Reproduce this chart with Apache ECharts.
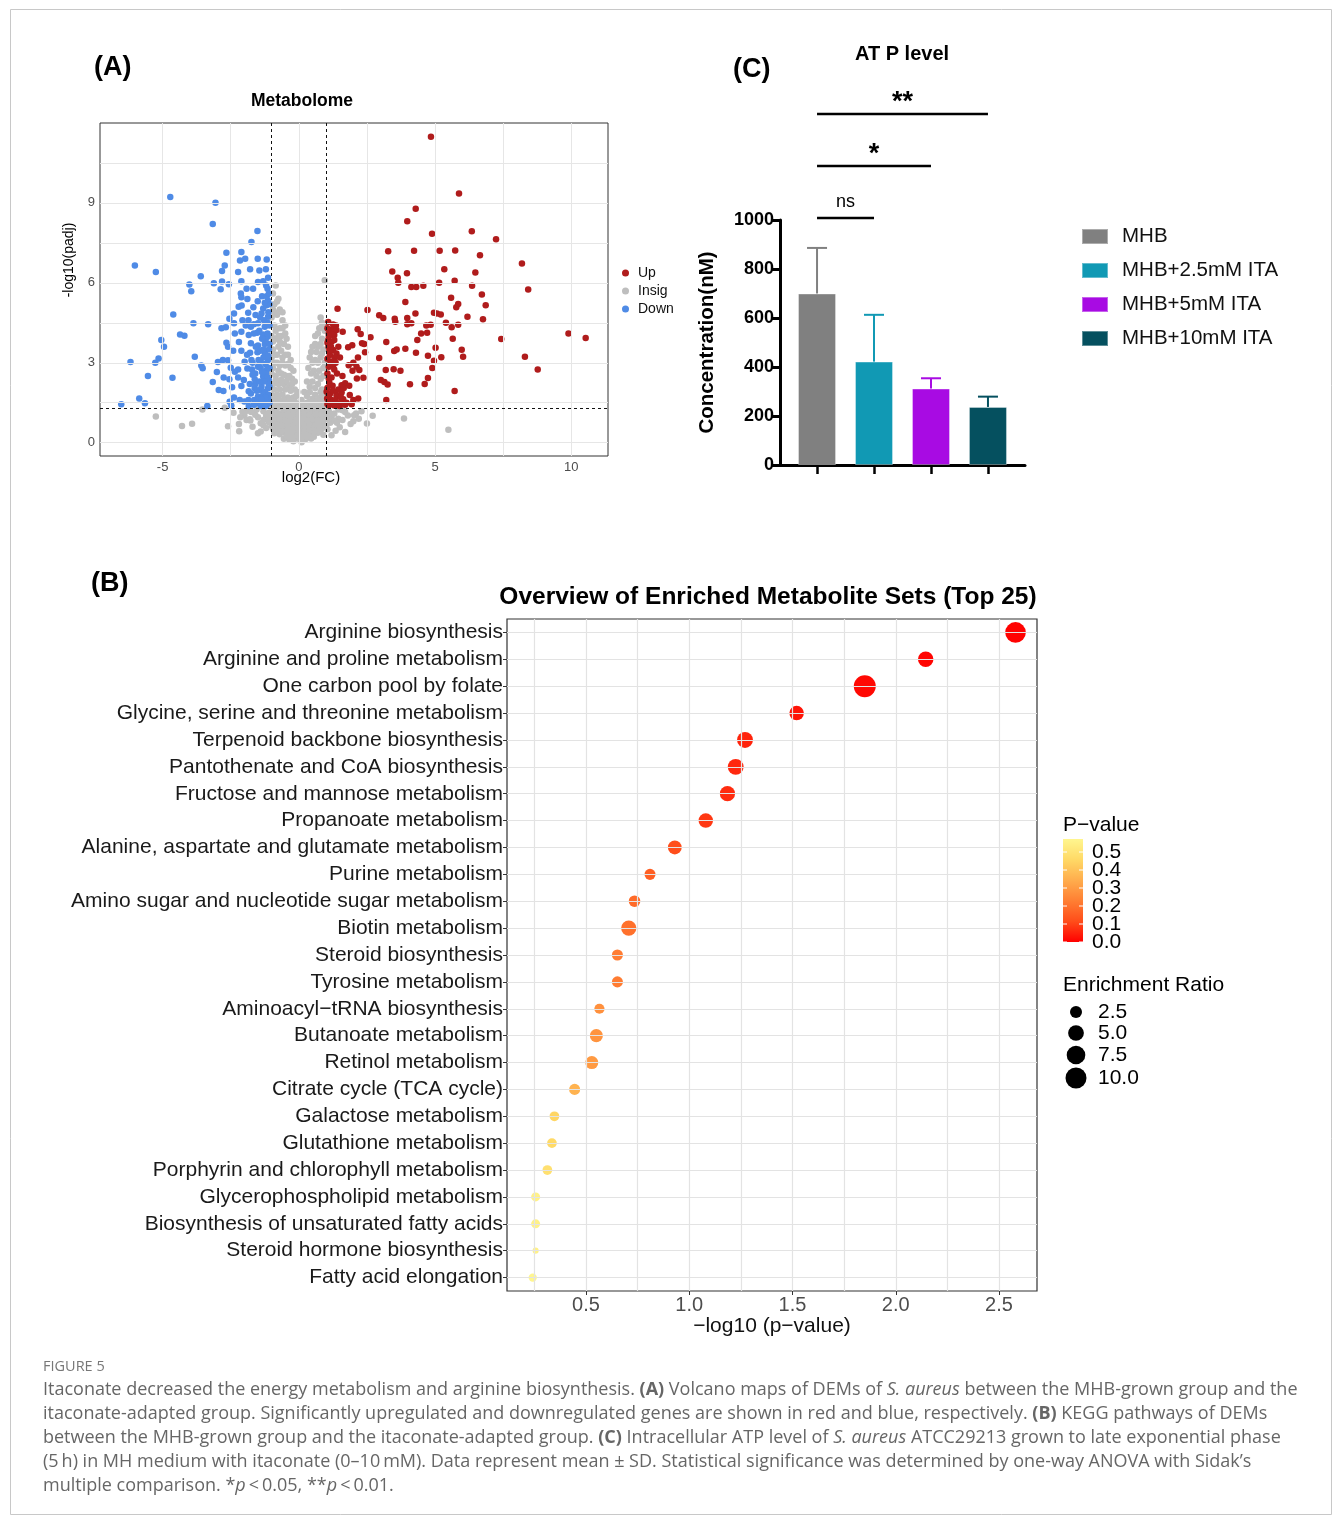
<!DOCTYPE html>
<html><head><meta charset="utf-8">
<script src="https://cdn.jsdelivr.net/npm/echarts@6/dist/echarts.min.js"></script>
<style>html,body{margin:0;padding:0;background:#fff}#c{width:1333px;height:1517px}</style>
</head><body><div id="c"></div>
<script>
// ---------------- DATA ----------------
// (A) Volcano: [log2(FC), -log10(padj)]
const volcanoUp = [[4.85,11.48],[5.88,9.35],[4.29,8.78],[3.98,8.31],[6.35,7.94],[4.89,7.84],[7.24,7.64],[3.28,7.19],[4.23,7.2],[5.17,7.2],[5.74,7.21],[6.65,7.04],[8.19,6.73],[5.34,6.51],[3.43,6.43],[3.63,6.19],[3.65,6.0],[3.97,6.36],[6.48,6.39],[5.72,6.08],[5.15,6.0],[6.36,5.89],[8.42,5.75],[4.13,5.84],[4.31,5.84],[4.57,5.89],[6.72,5.56],[5.59,5.44],[5.78,5.08],[5.85,5.21],[6.86,5.16],[3.91,5.28],[1.42,5.03],[2.52,4.98],[2.95,4.78],[3.1,4.68],[3.52,4.65],[3.54,4.54],[3.98,4.68],[4.28,4.85],[3.98,4.45],[4.13,4.48],[4.96,4.88],[5.07,4.85],[5.21,4.81],[4.68,4.4],[4.84,4.43],[5.4,4.5],[5.85,4.43],[6.19,4.73],[6.76,4.63],[5.61,4.33],[4.49,4.1],[4.71,4.13],[7.43,3.89],[9.9,4.1],[10.53,3.93],[4.35,3.85],[5.65,3.9],[3.21,3.78],[3.5,3.44],[3.59,3.5],[3.91,3.53],[4.3,3.38],[5.02,3.56],[5.98,3.49],[6.03,3.23],[2.95,3.18],[4.74,3.26],[4.96,3.08],[5.23,3.21],[8.3,3.23],[3.19,2.73],[3.48,2.76],[3.73,2.7],[4.9,2.8],[8.77,2.75],[3.01,2.35],[3.14,2.28],[3.26,2.18],[4.08,2.19],[4.62,2.2],[4.74,2.43],[3.21,1.6],[5.72,1.94],[1.08,4.53],[1.26,4.44],[1.36,4.4],[1.2,4.25],[1.38,4.23],[1.61,4.16],[1.1,4.1],[1.3,4.04],[2.16,4.26],[2.27,4.08],[2.63,3.96],[2.32,3.73],[2.4,3.7],[1.96,3.66],[1.81,3.58],[1.08,3.85],[1.2,3.79],[1.09,3.6],[1.26,3.48],[1.38,3.35],[1.14,3.29],[1.32,3.2],[1.51,3.2],[1.16,3.04],[1.26,2.91],[2.43,3.39],[2.17,3.2],[1.83,2.91],[2.0,3.0],[2.12,2.85],[2.22,2.73],[1.97,2.7],[1.4,2.6],[2.13,2.41],[2.37,2.44],[1.57,2.16],[1.7,2.23],[1.85,2.14],[1.24,2.14],[1.02,1.91],[1.14,1.83],[1.38,1.79],[1.57,1.88],[1.2,1.6],[1.38,1.41],[1.63,1.63],[1.87,1.79],[2.0,1.6],[2.18,1.66],[1.75,1.5],[1.04,1.66],[1.51,1.48],[1.94,1.44],[1.15,3.45],[1.22,4.05],[1.1,2.4],[1.3,2.75],
[1.05,1.45],[1.1,1.75],[1.05,2.05],[1.12,2.25],[1.05,2.6],[1.1,2.85],[1.05,3.15],[1.12,3.45],[1.05,3.75],[1.1,4.0],[1.05,4.3],[1.2,1.5],[1.25,1.95],[1.2,2.45],[1.25,3.05],[1.18,3.6],[1.3,3.85],[1.35,1.6],[1.45,2.0],[1.35,3.0],[1.45,3.6],[1.55,1.7],[1.65,2.05],[1.6,2.5],[1.1,1.4],[1.3,1.4],[1.5,1.38],[1.7,1.42]];
const volcanoDown = [[-4.72,9.22],[-3.06,9.01],[-3.16,8.21],[-1.52,7.95],[-1.74,7.53],[-2.66,7.13],[-2.11,7.16],[-6.02,6.65],[-5.25,6.41],[-2.72,6.65],[-2.16,6.84],[-1.97,6.9],[-1.51,6.9],[-1.18,6.88],[-2.82,6.44],[-2.23,6.41],[-1.79,6.51],[-1.45,6.46],[-1.21,6.51],[-3.6,6.25],[-2.82,6.05],[-2.57,5.95],[-3.12,5.98],[-2.87,5.76],[-2.11,6.06],[-1.5,6.03],[-1.31,6.06],[-1.13,6.19],[-1.15,5.78],[-4.02,5.94],[-3.95,5.68],[-2.13,5.6],[-1.92,5.78],[-1.68,5.78],[-2.11,5.46],[-1.89,5.39],[-1.51,5.31],[-1.13,5.33],[-4.61,4.81],[-3.87,4.48],[-3.33,4.45],[-2.84,4.3],[-4.36,4.06],[-4.2,4.01],[-2.55,4.65],[-2.38,4.85],[-2.21,5.1],[-2.1,5.15],[-1.86,4.88],[-1.67,5.08],[-1.31,5.04],[-1.19,5.16],[-2.07,4.6],[-1.85,4.6],[-1.59,4.79],[-1.37,4.85],[-1.13,4.73],[-2.38,4.48],[-1.76,4.35],[-1.5,4.48],[-1.25,4.35],[-2.68,4.33],[-2.35,4.1],[-2.11,4.16],[-1.84,4.04],[-1.53,4.13],[-1.31,4.06],[-1.15,3.98],[-5.05,3.85],[-4.95,3.6],[-2.66,3.75],[-2.6,3.6],[-2.2,3.78],[-1.76,3.73],[-1.5,3.65],[-1.25,3.7],[-3.82,3.23],[-2.41,3.45],[-2.11,3.45],[-1.79,3.38],[-1.52,3.39],[-1.25,3.38],[-6.18,3.03],[-5.27,3.0],[-5.15,3.16],[-2.97,3.03],[-2.79,3.1],[-2.6,3.09],[-1.99,3.04],[-1.74,3.1],[-1.4,3.04],[-1.13,3.1],[-3.58,2.9],[-3.53,2.79],[-2.5,2.81],[-2.23,2.75],[-1.89,2.78],[-1.72,2.75],[-1.5,2.85],[-1.19,2.73],[-3.01,2.65],[-2.35,2.66],[-5.54,2.5],[-4.64,2.44],[-2.76,2.45],[-2.55,2.38],[-2.23,2.45],[-2.02,2.35],[-1.62,2.38],[-1.31,2.48],[-1.1,2.35],[-3.16,2.28],[-2.45,2.08],[-2.11,2.13],[-1.84,1.93],[-1.62,2.04],[-1.37,2.1],[-1.13,2.04],[-2.94,1.98],[-2.77,1.94],[-5.86,1.66],[-5.65,1.48],[-6.52,1.44],[-3.36,1.38],[-2.54,1.54],[-2.38,1.7],[-2.17,1.6],[-2.48,1.4],[-1.84,1.38],[-1.64,1.6],[-1.5,1.73],[-1.31,1.79],[-1.13,1.66],[-1.56,1.48],[-1.37,1.45],[-1.19,1.41],[-1.76,1.85],[-1.43,1.98],[-1.2,2.6],[-1.3,3.2],[-1.45,4.2],[-1.25,1.9],[-1.6,2.2],[-1.15,4.5],[-1.35,5.5],[-1.2,5.9],[-1.4,2.8],[-1.7,3.0],[-1.28,1.55],[-1.5,1.6],[-1.1,3.5],[-1.95,4.4],[-1.1,2.2],[-1.65,4.45],[-1.9,3.3],[-2.0,1.55],[-1.42,3.45],[-1.18,5.5],
[-1.08,1.5],[-1.12,1.8],[-1.08,2.1],[-1.15,2.45],[-1.08,2.8],[-1.12,3.25],[-1.08,3.7],[-1.15,4.1],[-1.08,4.4],[-1.12,4.9],[-1.08,5.2],[-1.1,5.6],[-1.22,1.7],[-1.28,2.3],[-1.22,2.95],[-1.3,3.5],[-1.22,3.85],[-1.28,4.6],[-1.25,5.25],[-1.38,1.62],[-1.45,2.3],[-1.35,2.65],[-1.48,3.1],[-1.35,3.9],[-1.42,4.7],[-1.55,1.95],[-1.6,2.6],[-1.58,3.6],[-1.65,4.1],[-1.7,2.55],[-1.2,1.38],[-1.4,1.38],[-1.65,1.42],[-1.85,1.6],[-1.8,2.2]];
const volcanoInsig = [[-0.85,5.9],[-0.95,5.6],[-0.75,5.4],[-0.9,5.2],[-0.7,5.0],[-1.0,4.7],[-0.8,4.8],[-0.6,4.6],[-0.9,4.4],[-0.7,4.3],[-0.5,4.4],[-1.0,4.0],[-0.85,3.9],[-0.65,4.0],[-0.45,3.9],[-0.55,3.7],[-0.75,3.6],[-0.95,3.5],[-1.0,3.2],[-0.8,3.3],[-0.6,3.2],[-0.4,3.3],[-0.9,3.0],[-0.7,2.9],[-0.5,2.9],[-0.3,2.8],[-1.0,2.6],[-0.85,2.5],[-0.65,2.6],[-0.45,2.5],[-0.25,2.4],[-0.95,2.2],[-0.75,2.2],[-0.55,2.2],[-0.35,2.1],[-0.15,2.0],[-1.0,1.8],[-0.8,1.8],[-0.6,1.8],[-0.4,1.7],[-0.2,1.7],[-0.9,1.5],[-0.7,1.5],[-0.5,1.4],[-0.3,1.4],[-0.1,1.4],
[0.95,6.1],[0.85,4.5],[0.75,4.3],[0.95,4.2],[0.6,4.0],[0.85,3.9],[0.5,3.6],[0.7,3.6],[0.9,3.5],[0.4,3.2],[0.6,3.1],[0.8,3.2],[0.95,3.0],[0.35,2.8],[0.55,2.7],[0.75,2.7],[0.9,2.5],[0.3,2.3],[0.5,2.3],[0.7,2.2],[0.85,2.0],[0.2,1.9],[0.4,1.9],[0.6,1.8],[0.8,1.7],[0.95,1.6],[0.1,1.6],[0.3,1.5],[0.5,1.4],[0.7,1.4],[0.9,1.35],
[-0.2,1.2],[0.0,1.25],[0.2,1.3],[-0.4,1.25],[0.4,1.2],[-0.6,1.3],[0.6,1.25],[-0.8,1.3],[0.8,1.2],[-1.0,1.35],[1.0,1.3],
[-1.3,1.18],[-1.1,1.12],[-0.9,1.2],[-0.7,1.1],[-0.5,1.17],[-0.3,1.13],[-0.1,1.19],[0.1,1.1],[0.3,1.16],[0.5,1.12],[0.7,1.2],[0.9,1.14],[1.1,1.18],[1.3,1.1],
[-1.5,0.95],[-1.2,0.98],[-1.0,0.92],[-0.8,0.97],[-0.6,0.93],[-0.4,0.99],[-0.2,0.94],[0.0,0.96],[0.2,0.91],[0.4,0.97],[0.6,0.93],[0.8,0.98],[1.0,0.92],[1.2,0.96],[1.45,0.9],
[-1.4,0.73],[-1.1,0.77],[-0.9,0.72],[-0.7,0.76],[-0.5,0.74],[-0.3,0.78],[-0.1,0.72],[0.1,0.76],[0.3,0.73],[0.5,0.77],[0.7,0.74],[0.9,0.71],[1.15,0.75],
[-1.2,0.55],[-0.95,0.52],[-0.75,0.57],[-0.55,0.53],[-0.35,0.56],[-0.15,0.51],[0.05,0.55],[0.25,0.52],[0.45,0.57],[0.65,0.53],[0.85,0.55],[1.05,0.5],
[-0.9,0.35],[-0.7,0.32],[-0.5,0.37],[-0.3,0.33],[-0.1,0.36],[0.1,0.31],[0.3,0.35],[0.5,0.33],[0.7,0.37],[0.9,0.3],
[-0.55,0.15],[-0.35,0.12],[-0.15,0.17],[0.05,0.1],[0.25,0.14],[0.45,0.16],
[-1.6,1.05],[-1.8,0.88],[-2.0,1.02],[-1.7,0.6],[-2.2,0.7],[-2.6,0.62],[-1.4,0.42],[-2.4,1.12],[-1.9,1.2],[1.6,0.85],[1.8,1.02],[1.5,0.58],[2.0,0.8],[2.3,1.18],[1.35,0.45],[1.7,0.4],[2.5,0.72],[1.2,0.28],[1.6,1.22],[2.1,1.1],
[-5.25,0.98],[-4.29,0.63],[-3.92,0.71],[-3.54,1.25],[-2.72,1.31],[-2.19,0.43],[-2.07,1.16],[-1.92,0.85],[-1.78,0.83],[2.71,1.01],[3.86,0.91],[5.49,0.49],[2.03,1.03],
[-0.95,5.0],[-0.8,5.3],[-0.9,4.9],[-0.6,4.9],[-0.85,4.2],[-0.6,4.3],[-0.75,4.0],[-0.5,4.1],[-0.95,3.8],[-0.7,3.8],[-0.4,3.6],[-0.9,3.3],[-0.65,3.45],[-0.5,3.3],[-0.3,3.1],[-0.8,3.0],[-0.6,3.0],[-0.4,2.95],[-0.2,2.7],[-0.95,2.8],[-0.75,2.7],[-0.55,2.55],[-0.35,2.5],[-0.15,2.3],[-0.85,2.35],[-0.65,2.35],[-0.45,2.3],[-0.25,2.2],[-0.05,1.9],[-0.9,2.0],[-0.7,2.0],[-0.5,2.0],[-0.3,1.95],[-0.1,1.75],[-0.95,1.65],[-0.75,1.65],[-0.55,1.6],[-0.35,1.55],[-0.15,1.55],[-1.0,1.45],[-0.8,1.4],[-0.6,1.45],[-0.4,1.45],[-0.2,1.4],[0.0,1.45],
[0.8,4.7],[0.9,4.4],[0.7,4.1],[0.8,3.7],[0.6,3.7],[0.65,3.4],[0.85,3.35],[0.45,3.4],[0.5,3.0],[0.7,3.0],[0.9,2.8],[0.45,2.6],[0.65,2.5],[0.8,2.4],[0.4,2.1],[0.6,2.05],[0.8,1.9],[0.95,1.85],[0.3,1.75],[0.5,1.65],[0.7,1.6],[0.2,1.45],[0.4,1.55],[0.6,1.5],[0.8,1.5],[0.15,1.3],[0.35,1.35],[0.55,1.3],[0.75,1.3],[0.95,1.45],
[-1.2,1.05],[-1.0,1.05],[-0.8,1.08],[-0.6,1.03],[-0.4,1.07],[-0.2,1.04],[0.0,1.06],[0.2,1.02],[0.4,1.07],[0.6,1.03],[0.8,1.06],[1.0,1.02],[1.2,1.05],[-1.3,0.85],[-1.1,0.87],[-0.9,0.83],[-0.7,0.86],[-0.5,0.84],[-0.3,0.88],[-0.1,0.83],[0.1,0.86],[0.3,0.84],[0.5,0.87],[0.7,0.83],[0.9,0.85],[1.1,0.88],[1.3,0.82],[-1.0,0.64],[-0.8,0.66],[-0.6,0.63],[-0.4,0.66],[-0.2,0.62],[0.0,0.65],[0.2,0.63],[0.4,0.66],[0.6,0.62],[0.8,0.65],[1.0,0.62],[-0.8,0.45],[-0.6,0.43],[-0.4,0.46],[-0.2,0.44],[0.0,0.45],[0.2,0.43],[0.4,0.46],[0.6,0.44],[0.8,0.45],[-0.45,0.25],[-0.25,0.23],[-0.05,0.26],[0.15,0.24],[0.35,0.25],[0.55,0.22],[-0.2,0.05],[0.1,0.02],
[-1.55,1.25],[-1.75,1.15],[-2.15,0.95],[-1.3,0.65],[-1.5,0.35],[1.45,1.25],[1.7,1.15],[1.9,0.7],[1.4,0.75],[2.2,0.9]];
const volcanoXTicks = [-5, 0, 5, 10];
const volcanoYTicks = [0, 3, 6, 9];

// (C) ATP level
const atpGroups = ['MHB', 'MHB+2.5mM ITA', 'MHB+5mM ITA', 'MHB+10mM ITA'];
const atpMean = [700, 422, 312, 237];
const atpSD = [186, 191, 42, 42];
const atpComparisons = [[1, 2, 'ns'], [1, 3, '*'], [1, 4, '**']];

// (B) Enrichment
const pathways = ['Arginine biosynthesis','Arginine and proline metabolism','One carbon pool by folate','Glycine, serine and threonine metabolism','Terpenoid backbone biosynthesis','Pantothenate and CoA biosynthesis','Fructose and mannose metabolism','Propanoate metabolism','Alanine, aspartate and glutamate metabolism','Purine metabolism','Amino sugar and nucleotide sugar metabolism','Biotin metabolism','Steroid biosynthesis','Tyrosine metabolism','Aminoacyl\u2212tRNA biosynthesis','Butanoate metabolism','Retinol metabolism','Citrate cycle (TCA cycle)','Galactose metabolism','Glutathione metabolism','Porphyrin and chlorophyll metabolism','Glycerophospholipid metabolism','Biosynthesis of unsaturated fatty acids','Steroid hormone biosynthesis','Fatty acid elongation'];
const pathwayNegLog10P = [2.58,2.145,1.85,1.52,1.27,1.225,1.185,1.08,0.93,0.81,0.735,0.707,0.652,0.652,0.565,0.55,0.528,0.445,0.347,0.335,0.313,0.256,0.256,0.256,0.242];
const pathwayEnrichment = [9.6,4.8,11.1,4.1,5.1,5.1,4.6,4.1,3.6,2.0,2.3,4.6,2.0,2.0,1.6,3.1,3.1,2.0,1.4,1.4,1.4,1.1,1.1,0.3,0.86];
const enrichXTicks = [0.5, 1.0, 1.5, 2.0, 2.5];
const pLegendTicks = [0.0, 0.1, 0.2, 0.3, 0.4, 0.5];
const erLegendValues = [2.5, 5.0, 7.5, 10.0];

// ---------------- STYLE ----------------
const SANS = "'Liberation Sans', Arial, Helvetica, sans-serif";
const CAP = "'Open Sans', sans-serif";
const atpColors = ['#808080', '#1199B4', '#A80BE3', '#05505F'];
const pColors = ['#ff0000', '#ff4d1a', '#ff7f33', '#ffad4d', '#ffd966', '#fff68f'];
const erSize = v => 3 + 5.7 * Math.sqrt(v);

const chart = echarts.init(document.getElementById('c'), null, {renderer: 'canvas'});

function txt(x, y, text, size, o) {
  o = o || {};
  return {type: 'text', x: x, y: y, silent: true, rotation: o.rotation || 0,
    style: {text: text, fontSize: size, fontFamily: o.family || SANS, fontWeight: o.weight || 'normal',
      fontStyle: o.style || 'normal', fill: o.fill || '#000',
      align: o.align || 'left', textAlign: o.align || 'left',
      verticalAlign: o.va || 'middle', textVerticalAlign: o.va || 'middle', rich: o.rich}};
}

const pMax = Math.max(...pathwayNegLog10P.map(v => Math.pow(10, -v)));

const baseGraphics = [];
baseGraphics.push({type: 'rect', silent: true, shape: {x: 10.5, y: 9.5, width: 1321, height: 1505}, style: {fill: 'none', stroke: '#c8c8c8', lineWidth: 1}});
baseGraphics.push(txt(94, 68, '(A)', 27, {weight: 'bold'}));
baseGraphics.push(txt(302, 101, 'Metabolome', 17.5, {weight: 'bold', align: 'center'}));
baseGraphics.push(txt(311, 478, 'log2(FC)', 15, {align: 'center'}));
baseGraphics.push(txt(69, 260, '-log10(padj)', 14, {align: 'center', rotation: Math.PI / 2}));
baseGraphics.push(txt(733, 70, '(C)', 27, {weight: 'bold'}));
baseGraphics.push(txt(902, 54, 'AT P level', 20, {weight: 'bold', align: 'center'}));
baseGraphics.push(txt(91, 584, '(B)', 27, {weight: 'bold'}));
baseGraphics.push(txt(768, 597, 'Overview of Enriched Metabolite Sets (Top 25)', 24.5, {weight: 'bold', align: 'center'}));
// P-value colorbar
const cbX = 1063, cbBottom = 942, pxPerP = 180;
baseGraphics.push(txt(cbX, 825, 'P\u2212value', 21));
baseGraphics.push({type: 'rect', silent: true, shape: {x: cbX, y: cbBottom - pMax * pxPerP, width: 20, height: pMax * pxPerP},
  style: {fill: new echarts.graphic.LinearGradient(0, 1, 0, 0, pColors.map((c, i) => ({offset: i / (pColors.length - 1), color: c})))}});
pLegendTicks.forEach(v => {
  const y = cbBottom - v * pxPerP;
  baseGraphics.push({type: 'line', silent: true, shape: {x1: cbX, y1: y, x2: cbX + 4, y2: y}, style: {stroke: '#fff', lineWidth: 1}});
  baseGraphics.push({type: 'line', silent: true, shape: {x1: cbX + 16, y1: y, x2: cbX + 20, y2: y}, style: {stroke: '#fff', lineWidth: 1}});
  baseGraphics.push(txt(cbX + 29, y, v.toFixed(1), 21));
});
// Enrichment ratio legend
baseGraphics.push(txt(cbX, 985, 'Enrichment Ratio', 21));
const erYs = [1012, 1033, 1055, 1078];
erLegendValues.forEach((v, i) => {
  baseGraphics.push({type: 'circle', silent: true, shape: {cx: cbX + 13, cy: erYs[i], r: erSize(v) / 2}, style: {fill: '#000'}});
  baseGraphics.push(txt(cbX + 35, erYs[i], v.toFixed(1), 21));
});
// caption
const capRich = {
  b: {fontWeight: 'bold', fontSize: 18, fontFamily: CAP, fill: '#666', color: '#666'},
  i: {fontStyle: 'italic', fontSize: 18, fontFamily: CAP, fill: '#666', color: '#666'}
};
const capLines = [
  'Itaconate decreased the energy metabolism and arginine biosynthesis. {b|(A)} Volcano maps of DEMs of {i|S. aureus} between the MHB-grown group and the',
  'itaconate-adapted group. Significantly upregulated and downregulated genes are shown in red and blue, respectively. {b|(B)} KEGG pathways of DEMs',
  'between the MHB-grown group and the itaconate-adapted group. {b|(C)} Intracellular ATP level of {i|S. aureus} ATCC29213 grown to late exponential phase',
  '(5\u2009h) in MH medium with itaconate (0\u201310\u2009mM). Data represent mean \u00b1 SD. Statistical significance was determined by one-way ANOVA with Sidak\u2019s',
  'multiple comparison. *{i|p}\u2009<\u20090.05, **{i|p}\u2009<\u20090.01.'
];
baseGraphics.push(txt(43, 1367, 'FIGURE 5', 14.5, {family: CAP, fill: '#777'}));
capLines.forEach((l, i) => baseGraphics.push(txt(43, 1390 + i * 24, l, 18, {family: CAP, fill: '#666', rich: capRich})));

const gridLine = {color: '#e6e6e6', width: 1, type: 'solid'};
const dash = {color: '#111', type: [3, 3], width: 1};
const option = {
  animation: false,
  backgroundColor: '#fff',
  textStyle: {fontFamily: SANS},
  grid: [
    {left: 100, top: 123, width: 508, height: 333, show: true, borderColor: '#333', borderWidth: 1, backgroundColor: 'transparent'},
    {left: 780, top: 220, width: 245, height: 245},
    {left: 507, top: 619, width: 530, height: 672, show: true, borderColor: '#333', borderWidth: 1.2, backgroundColor: 'transparent'}
  ],
  xAxis: [
    {gridIndex: 0, type: 'value', min: -7.3, max: 11.35, axisLine: {show: false}, splitLine: {show: false},
      axisTick: {show: true, customValues: volcanoXTicks, length: 3, lineStyle: {color: '#333'}},
      axisLabel: {customValues: volcanoXTicks, color: '#4d4d4d', fontSize: 13, margin: 5}},
    {gridIndex: 1, type: 'value', min: 0.35, max: 4.65, splitLine: {show: false},
      axisLine: {onZero: false, lineStyle: {color: '#000', width: 3}},
      axisTick: {show: true, customValues: [1, 2, 3, 4], length: 9, lineStyle: {color: '#000', width: 2.5}},
      axisLabel: {show: false}},
    {gridIndex: 2, type: 'value', min: 0.1174, max: 2.684, axisLine: {show: false}, splitLine: {show: false},
      axisTick: {show: true, customValues: enrichXTicks, length: 4, lineStyle: {color: '#333'}},
      axisLabel: {customValues: enrichXTicks, formatter: v => v.toFixed(1), color: '#4d4d4d', fontSize: 20, margin: 4},
      name: '\u2212log10 (p\u2212value)', nameLocation: 'middle', nameGap: 22, nameTextStyle: {fontSize: 21, color: '#111', verticalAlign: 'top'}}
  ],
  yAxis: [
    {gridIndex: 0, type: 'value', min: -0.5, max: 12.0, axisLine: {show: false}, splitLine: {show: false},
      axisTick: {show: true, customValues: volcanoYTicks, length: 3, lineStyle: {color: '#333'}},
      axisLabel: {customValues: volcanoYTicks, color: '#4d4d4d', fontSize: 13, margin: 5}},
    {gridIndex: 1, type: 'value', min: 0, max: 1000, interval: 200, splitLine: {show: false},
      axisLine: {show: true, onZero: false, lineStyle: {color: '#000', width: 3}},
      axisTick: {show: true, length: 9, lineStyle: {color: '#000', width: 3}},
      axisLabel: {fontSize: 18, fontWeight: 'bold', color: '#000', margin: 6, formatter: v => String(v)},
      name: 'Concentration(nM)', nameLocation: 'middle', nameGap: 62, nameTextStyle: {fontSize: 20.5, fontWeight: 'bold', color: '#000'}},
    {gridIndex: 2, type: 'category', data: pathways, inverse: true, axisLine: {show: false}, splitLine: {show: false},
      axisTick: {show: true, alignWithLabel: true, interval: 0, length: 4, lineStyle: {color: '#333'}},
      axisLabel: {fontSize: 21, color: '#1a1a1a', margin: 4, interval: 0, hideOverlap: false}}
  ],
  legend: [
    {data: ['Up', 'Insig', 'Down'], orient: 'vertical', left: 622, top: 266, itemWidth: 7, itemHeight: 7, itemGap: 4, padding: 0,
      icon: 'circle', textStyle: {fontSize: 14, color: '#111', padding: [0, 0, 0, 4]}, selectedMode: false},
    {data: atpGroups, orient: 'vertical', left: 1081, top: 226, itemWidth: 26, itemHeight: 15, itemGap: 13, padding: 0,
      icon: 'rect', textStyle: {fontSize: 20.5, color: '#111', padding: [0, 0, 0, 9]}, selectedMode: false}
  ],
  visualMap: [{show: false, type: 'continuous', seriesIndex: 9, dimension: 2, min: 0, max: pMax, inRange: {color: pColors}}],
  series: [
    {type: 'scatter', xAxisIndex: 0, yAxisIndex: 0, data: [], silent: true, z: 1,
      markLine: {silent: true, symbol: ['none', 'none'], label: {show: false}, animation: false, lineStyle: gridLine,
        data: [-5, -2.5, 0, 2.5, 5, 7.5, 10].map(v => ({xAxis: v}))
          .concat([0, 1.5, 3, 4.5, 6, 7.5, 9, 10.5].map(v => ({yAxis: v})))
          .concat([{xAxis: -1, lineStyle: dash}, {xAxis: 1, lineStyle: dash}, {yAxis: -Math.log10(0.05), lineStyle: dash}])}},
    {name: 'Insig', type: 'scatter', xAxisIndex: 0, yAxisIndex: 0, data: volcanoInsig, symbolSize: 6.5, itemStyle: {color: '#BEBEBE', opacity: 1}, z: 2},
    {name: 'Down', type: 'scatter', xAxisIndex: 0, yAxisIndex: 0, data: volcanoDown, symbolSize: 6.5, itemStyle: {color: '#4F8BE6', opacity: 1}, z: 3},
    {name: 'Up', type: 'scatter', xAxisIndex: 0, yAxisIndex: 0, data: volcanoUp, symbolSize: 6.5, itemStyle: {color: '#B01C1C', opacity: 1}, z: 3},
    ...atpGroups.map((g, i) => ({name: g, type: 'bar', xAxisIndex: 1, yAxisIndex: 1, barWidth: 38, barGap: '-100%',
      data: [[i + 1, atpMean[i]]], itemStyle: {color: atpColors[i], borderColor: 'rgba(255,255,255,0.35)', borderWidth: 1}})),
    {type: 'custom', xAxisIndex: 1, yAxisIndex: 1, z: 5, silent: true,
      data: atpMean.map((m, i) => [i + 1, m, m + atpSD[i]]),
      renderItem: (params, api) => {
        const p0 = api.coord([api.value(0), api.value(1)]);
        const p1 = api.coord([api.value(0), api.value(2)]);
        const c = atpColors[params.dataIndex];
        return {type: 'group', children: [
          {type: 'line', shape: {x1: p0[0], y1: p0[1], x2: p1[0], y2: p1[1]}, style: {stroke: c, lineWidth: 2}},
          {type: 'line', shape: {x1: p1[0] - 10, y1: p1[1], x2: p1[0] + 10, y2: p1[1]}, style: {stroke: c, lineWidth: 2}}
        ]};
      }},
    {type: 'scatter', xAxisIndex: 2, yAxisIndex: 2, z: 3, itemStyle: {opacity: 1},
      data: pathways.map((n, i) => [pathwayNegLog10P[i], i, Math.pow(10, -pathwayNegLog10P[i]), pathwayEnrichment[i]]),
      symbolSize: d => erSize(d[3])},
    {type: 'scatter', xAxisIndex: 2, yAxisIndex: 2, data: [], silent: true, z: 1,
      markLine: {silent: true, symbol: ['none', 'none'], label: {show: false}, animation: false, lineStyle: {color: '#e3e3e3', width: 1.2, type: 'solid'},
        data: [0.25, 0.5, 0.75, 1.0, 1.25, 1.5, 1.75, 2.0, 2.25, 2.5].map(v => ({xAxis: v}))
          .concat(pathways.map((n, i) => ({yAxis: i})))}}
  ],
  graphic: baseGraphics
};
chart.setOption(option);

// significance annotations positioned from data coordinates
const sig = [];
atpComparisons.forEach((c, k) => {
  const level = 1008 + k * 212.5;
  const a = chart.convertToPixel({gridIndex: 1}, [c[0], level]);
  const b = chart.convertToPixel({gridIndex: 1}, [c[1], level]);
  sig.push({type: 'line', silent: true, shape: {x1: a[0], y1: a[1], x2: b[0], y2: b[1]}, style: {stroke: '#000', lineWidth: 2.5}});
  if (c[2] === 'ns') sig.push(txt((a[0] + b[0]) / 2, a[1] - 16, c[2], 18, {align: 'center'}));
  else sig.push(txt((a[0] + b[0]) / 2, a[1] - 11, c[2], 27, {align: 'center', weight: 'bold'}));
});
chart.setOption({graphic: baseGraphics.concat(sig)});
</script>
</body></html>
